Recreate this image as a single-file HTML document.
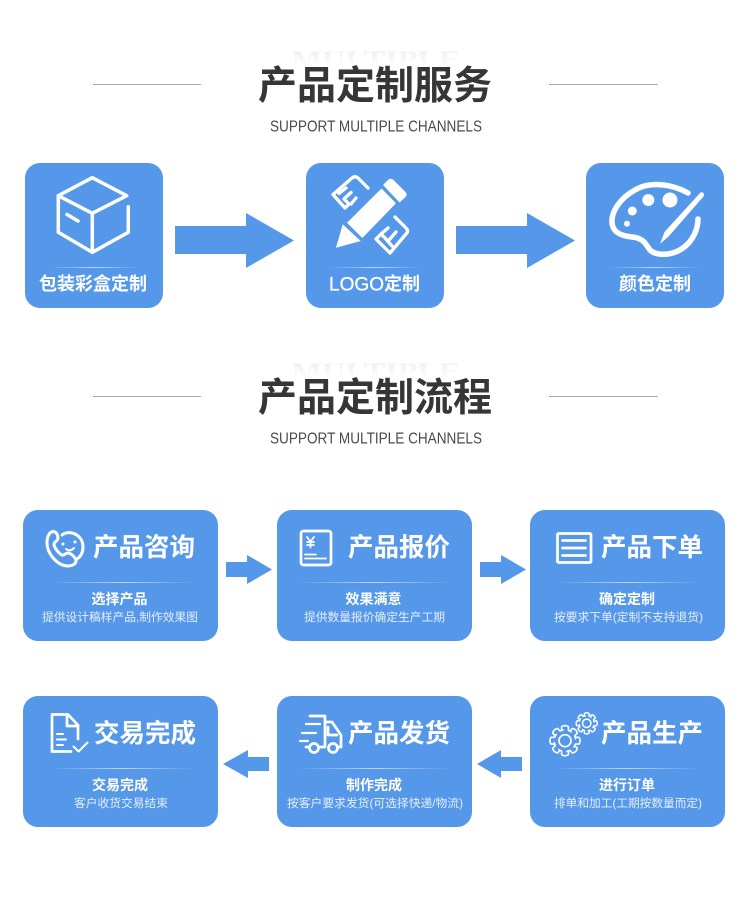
<!DOCTYPE html>
<html lang="zh">
<head>
<meta charset="utf-8">
<title>产品定制服务</title>
<style>
html,body{margin:0;padding:0;background:#fff;width:750px;height:900px;overflow:hidden}
svg{display:block}
text{font-family:"Liberation Sans","Noto Sans CJK SC",sans-serif}
.t{font-size:39px;font-weight:700;fill:#363636;text-anchor:middle}
.s{font-size:16px;fill:#4a4a4a;text-anchor:middle}
.g{font-family:"Liberation Serif",serif;font-size:23px;font-weight:700;fill:url(#ghost);text-anchor:middle}
.c{font-size:18px;font-weight:700;fill:#fff;text-anchor:middle}
.h{font-size:25.5px;font-weight:700;fill:#fff;text-anchor:middle}
.m{font-size:14px;font-weight:700;fill:#fff;text-anchor:middle}
.d{font-size:11.6px;fill:#e6effb;text-anchor:middle}
.i{fill:none;stroke:#fff;stroke-linecap:round;stroke-linejoin:round}
</style>
</head>
<body>
<svg width="750" height="900" viewBox="0 0 750 900" xmlns="http://www.w3.org/2000/svg">
<defs>
<linearGradient id="ghost" x1="0" y1="0" x2="0" y2="1"><stop offset="0" stop-color="#ececec"/><stop offset=".8" stop-color="#ffffff"/></linearGradient>
<linearGradient id="dv" x1="0" y1="0" x2="1" y2="0"><stop offset="0" stop-color="#fff" stop-opacity="0"/><stop offset=".5" stop-color="#fff" stop-opacity=".6"/><stop offset="1" stop-color="#fff" stop-opacity="0"/></linearGradient>
<g id="gear" class="i">
<g id="gt"><path d="M10.4-3.4L14-3.4L15-1.4L15 1.4L14 3.4L10.4 3.4L8.9 6.2"/></g>
<use href="#gt" transform="rotate(45)"/><use href="#gt" transform="rotate(90)"/><use href="#gt" transform="rotate(135)"/><use href="#gt" transform="rotate(180)"/><use href="#gt" transform="rotate(225)"/><use href="#gt" transform="rotate(270)"/><use href="#gt" transform="rotate(315)"/>
<circle r="6"/>
</g>
</defs>

<rect width="750" height="900" fill="#fff"/>

<!-- Section 1 header -->
<text class="g" x="376" y="67" textLength="169" lengthAdjust="spacingAndGlyphs">MULTIPLE</text>
<rect x="93" y="84" width="108" height="1" fill="#aaa"/>
<rect x="549" y="84" width="109" height="1" fill="#aaa"/>
<text class="t" x="375" y="99">产品定制服务</text>
<text class="s" x="376" y="131.500" textLength="212" lengthAdjust="spacingAndGlyphs">SUPPORT MULTIPLE CHANNELS</text>

<!-- Section 1 cards -->
<rect x="25" y="163" width="138" height="145" rx="15" fill="#5597e9"/>
<rect x="306" y="163" width="138" height="145" rx="15" fill="#5597e9"/>
<rect x="586" y="163" width="138" height="145" rx="15" fill="#5597e9"/>
<rect x="48" y="267" width="92" height="1" fill="url(#dv)"/>
<rect x="329" y="267" width="92" height="1" fill="url(#dv)"/>
<rect x="609" y="267" width="92" height="1" fill="url(#dv)"/>
<text class="c" x="93" y="290">包装彩盒定制</text>
<text class="c" x="356.500" y="290.500" style="font-size:19px;font-weight:400;stroke:#fff;stroke-width:.3" textLength="55" lengthAdjust="spacingAndGlyphs">LOGO</text>
<text class="c" x="402" y="290">定制</text>
<text class="c" x="655" y="290">颜色定制</text>

<!-- box icon -->
<g class="i" stroke-width="3.500">
<path d="M92.300 177.700L58.300 195.700L92.300 213.300L126.700 195.700Z"/>
<path d="M58.300 195.700V232.300L92.300 252.300V213.300"/>
<path d="M92.300 252.300L128.300 232.300V206.700"/>
<path d="M67 214.500L78 221"/>
</g>

<!-- pencil icon -->
<g fill="#fff">
<path d="M336 247.700L342.700 224.300L360.700 241Z"/>
<path d="M347 222.700L381.500 188.500L396 203.300L362.300 238Z"/>
<path d="M383 185L388 180Q390.700 177.500 393.500 180L405.500 192Q407.500 194.500 405.500 197L399.500 202.500Z"/>
</g>
<g class="i" stroke-width="3.300">
<path d="M368 188L358 178Q355 175.500 352 178L333 194.500L345 208L349 204L344 199M339 193.500L346 188M345 198L351 192.500M351 204L356 198"/>
<path d="M395 217L406 228Q409 231 406 234L390 253L376 239L381 234L386 239M392 246L385 238M381 234L388 228M396 232L389 240"/>
</g>

<!-- palette icon -->
<g class="i" stroke-width="5.500">
<path d="M688 193C672 184 650 181 635 190C620 198 611 212 612 223C613 233 622 236 632 237C643 238 645 243 650 250C656 256 672 256 683 248C693 241 698 229 698 219"/>
</g>
<g fill="#fff">
<circle cx="670" cy="200" r="7.500"/>
<circle cx="648.300" cy="200" r="6"/>
<circle cx="632.300" cy="211" r="4.500"/>
<circle cx="627" cy="223.700" r="3"/>
<path d="M700.500 192.500C703 191.500 705 194 703.500 196.500L669 236L660 244L664.500 232Z"/>
</g>

<!-- big arrows -->
<path fill="#5597e9" d="M175 226H246V213L294 240.500L246 268V254H175Z"/>
<path fill="#5597e9" d="M456 226H527V213L575 240.500L527 268V254H456Z"/>

<!-- Section 2 header -->
<text class="g" x="376" y="379" textLength="169" lengthAdjust="spacingAndGlyphs">MULTIPLE</text>
<rect x="93" y="396" width="108" height="1" fill="#aaa"/>
<rect x="549" y="396" width="109" height="1" fill="#aaa"/>
<text class="t" x="375" y="411">产品定制流程</text>
<text class="s" x="376" y="443.500" textLength="212" lengthAdjust="spacingAndGlyphs">SUPPORT MULTIPLE CHANNELS</text>

<!-- Flow cards -->
<g fill="#5597e9">
<rect x="23" y="510" width="195" height="131" rx="15"/>
<rect x="277" y="510" width="195" height="131" rx="15"/>
<rect x="530" y="510" width="195" height="131" rx="15"/>
<rect x="23" y="696" width="195" height="131" rx="15"/>
<rect x="277" y="696" width="195" height="131" rx="15"/>
<rect x="530" y="696" width="195" height="131" rx="15"/>
</g>
<g fill="url(#dv)">
<rect x="50" y="582" width="145" height="1"/>
<rect x="297" y="582" width="155" height="1"/>
<rect x="555" y="582" width="145" height="1"/>
<rect x="50" y="768" width="145" height="1"/>
<rect x="297" y="768" width="155" height="1"/>
<rect x="555" y="768" width="145" height="1"/>
</g>

<text class="h" x="144" y="556">产品咨询</text>
<text class="m" x="119.500" y="604">选择产品</text>
<text class="d" x="120" y="621" textLength="156" lengthAdjust="spacingAndGlyphs">提供设计稿样产品,制作效果图</text>

<text class="h" x="399" y="556">产品报价</text>
<text class="m" x="373.500" y="604">效果满意</text>
<text class="d" x="374.500" y="621" textLength="141" lengthAdjust="spacingAndGlyphs">提供数量报价确定生产工期</text>

<text class="h" x="652" y="556">产品下单</text>
<text class="m" x="627" y="604">确定定制</text>
<text class="d" x="628.500" y="621" textLength="149" lengthAdjust="spacingAndGlyphs">按要求下单(定制不支持退货)</text>

<text class="h" x="145" y="742">交易完成</text>
<text class="m" x="120" y="790">交易完成</text>
<text class="d" x="121" y="807" textLength="94" lengthAdjust="spacingAndGlyphs">客户收货交易结束</text>

<text class="h" x="399" y="742">产品发货</text>
<text class="m" x="374" y="790">制作完成</text>
<text class="d" x="375" y="807" textLength="176" lengthAdjust="spacingAndGlyphs">按客户要求发货(可选择快递/物流)</text>

<text class="h" x="652" y="742">产品生产</text>
<text class="m" x="627" y="790">进行订单</text>
<text class="d" x="628" y="807" textLength="148" lengthAdjust="spacingAndGlyphs">排单和加工(工期按数量而定)</text>

<!-- small arrows -->
<g fill="#5597e9">
<path d="M226 562H247V555L272 569.500L247 584V577H226Z"/>
<path d="M480 562H501V555L526 569.500L501 584V577H480Z"/>
<path d="M269 757H248V750L223 764L248 778V771H269Z"/>
<path d="M522 757H501V750L477 764L501 778V771H522Z"/>
</g>

<!-- phone icon -->
<g class="i" stroke-width="3">
<path d="M55 532C50 530 47 536 47 543C47 553 57 566 68 566C72 566 76 564 76 561C76 558 71 553 68 553C65 553 64 556 62 555C58 553 54 547 54 544C54 542 58 541 58 538C58 536 57 533 55 532Z"/>
<path d="M62 535C70 529 83 535 83 547C83 553 80 557 77 559"/>
</g>
<circle cx="63" cy="544" r="1.500" fill="#fff"/>
<circle cx="75" cy="542" r="1.500" fill="#fff"/>
<path class="i" stroke-width="2" d="M66 549Q70 552 74 548"/>

<!-- quote doc icon -->
<g class="i" stroke-width="2.700">
<rect x="301" y="531" width="30" height="34" rx="2.500"/>
</g>
<g class="i" stroke-width="1.800">
<path d="M307 537L310.500 541.500L314 537M310.500 541.500V547.500M307 542H314M307 545H314"/>
<path d="M305 554.500H316M305 558.500H326"/>
</g>

<!-- list icon -->
<g class="i" stroke-width="2.700">
<rect x="557.500" y="533.500" width="33.500" height="29" rx="1"/>
<path d="M562.500 540.500H585.500M562.500 548H585.500M562.500 555.500H585.500"/>
</g>

<!-- doc check icon -->
<g class="i" stroke-width="2.700">
<path d="M71 751.500H52V714.500H68L78 725V739"/>
<path d="M67 715V726H78"/>
<path d="M73.500 746.500L78.500 751.500L87.500 742.500" stroke-width="2"/>
<path d="M57 734H63M57 739.500H66M57 745H63" stroke-width="2"/>
</g>

<!-- truck icon -->
<g class="i" stroke-width="2.700">
<path d="M310 716H325V747M325 722H332L341 735V747H338M325 747H319M309 747H306"/>
<path d="M328 727V735H337"/>
<path d="M306 724H320M302 733H316M300 741H308" stroke-width="2.200"/>
<circle cx="314" cy="748" r="4.500"/>
<circle cx="333" cy="748" r="4.500"/>
</g>

<!-- gears -->
<use href="#gear" transform="translate(565 740.700)" stroke-width="1.600"/>
<use href="#gear" transform="translate(586.700 723.300) scale(.7)" stroke-width="2.100"/>
</svg>
</body>
</html>
